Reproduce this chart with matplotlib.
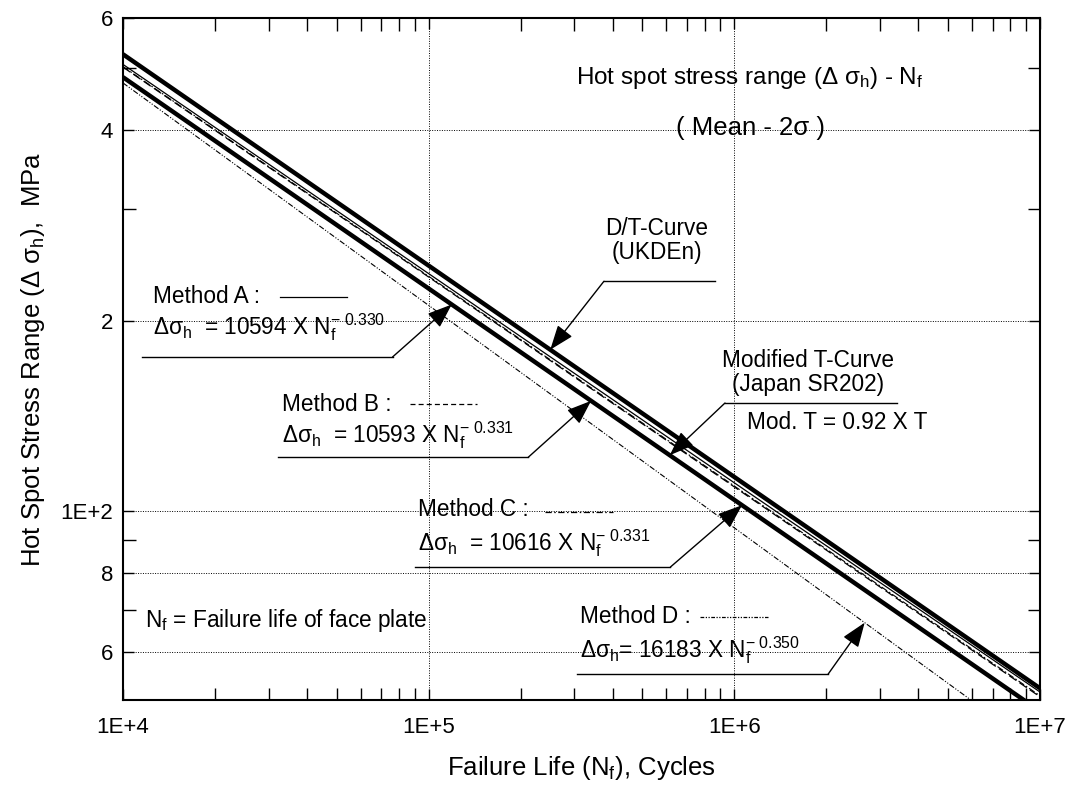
import numpy as np
import matplotlib
matplotlib.use('Agg')
import matplotlib.pyplot as plt
from matplotlib.ticker import FixedLocator, FixedFormatter, NullFormatter

plt.rcParams['font.family'] = ['Liberation Sans', 'DejaVu Sans']
plt.rcParams['mathtext.fontset'] = 'custom'
plt.rcParams['mathtext.rm'] = 'Liberation Sans'
plt.rcParams['mathtext.it'] = 'Liberation Sans'
plt.rcParams['mathtext.bf'] = 'Liberation Sans:bold'

# Curve end points (straight lines on log-log axes)
life_ends = [1e4, 1e7]
t_curve = [526, 52.6]       # D/T-curve (UKDEn)
mod_t_curve = [484, 48.4]   # Modified T-curve (Japan SR202)
method_a = [507, 51.9]
method_b = [502, 51.0]
method_c = [503, 51.2]
method_d = [474, 42.0]

x_ticks = [1e4, 1e5, 1e6, 1e7]
x_tick_labels = ['1E+4', '1E+5', '1E+6', '1E+7']
y_ticks = [60, 80, 100, 200, 400, 600]
y_tick_labels = ['6', '8', '1E+2', '2', '4', '6']
y_minor = [70, 90, 300, 500]

FS = 16.3


def at(series, n):
    # value of a straight log-log line at life n
    return 10 ** np.interp(np.log10(n), np.log10(life_ends), np.log10(series))


fig = plt.figure(figsize=(10.73, 7.87), dpi=100)
ax = fig.add_axes([0.1146, 0.1105, 0.8546, 0.8666])
ax.set_xscale('log')
ax.set_yscale('log')
ax.set_xlim(1e4, 1e7)
ax.set_ylim(50.4, 600)

thick = 3.2
thin = 0.9
ax.plot(life_ends, t_curve, color='k', lw=thick, solid_capstyle='butt')
ax.plot(life_ends, mod_t_curve, color='k', lw=thick, solid_capstyle='butt')
ax.plot(life_ends, method_a, color='k', lw=thin)
ax.plot(life_ends, method_b, color='k', lw=thin, dashes=(7, 3))
ax.plot(life_ends, method_c, color='k', lw=0.8, dashes=(6, 2, 1.5, 2))
ax.plot(life_ends, method_d, color='k', lw=0.8, dashes=(5, 1.5, 1, 1.5, 1, 1.5))

ax.xaxis.set_major_locator(FixedLocator(x_ticks))
ax.xaxis.set_major_formatter(FixedFormatter(x_tick_labels))
ax.xaxis.set_minor_locator(matplotlib.ticker.LogLocator(base=10, subs=np.arange(2, 10)))
ax.xaxis.set_minor_formatter(NullFormatter())
ax.yaxis.set_major_locator(FixedLocator(y_ticks))
ax.yaxis.set_major_formatter(FixedFormatter(y_tick_labels))
ax.yaxis.set_minor_locator(FixedLocator(y_minor))
ax.yaxis.set_minor_formatter(NullFormatter())

ax.tick_params(which='both', direction='in', top=True, right=True, width=1, colors='k')
ax.tick_params(which='major', length=8, labelsize=16)
ax.tick_params(which='minor', length=9)
ax.tick_params(axis='y', pad=7)
ax.tick_params(axis='x', pad=12)
ax.grid(True, which='major', ls=(0, (1, 1.5)), color='k', lw=0.7)
for s in ax.spines.values():
    s.set_linewidth(1.5)

ax.set_xlabel(r'Failure Life (N$_\mathrm{f}$), Cycles', fontsize=18.5, labelpad=12)
ax.set_ylabel(r'Hot Spot Stress Range ($\Delta\ \sigma_\mathrm{h}$),  MPa', fontsize=18.5, labelpad=10)

tr = ax.transAxes
ax.text(0.684, 0.912, r'Hot spot stress range ($\Delta\ \sigma_\mathrm{h}$) - N$_\mathrm{f}$',
        transform=tr, ha='center', va='center', fontsize=17.5)
ax.text(0.684, 0.839, '( Mean - 2σ )', transform=tr, ha='center', va='center', fontsize=18.5)

arrow = dict(arrowstyle='-|>,head_length=0.8,head_width=0.3', color='k', lw=1,
             shrinkA=0, shrinkB=0, mutation_scale=19)


def callout(lines, text_x, text_ys, under, tip, sample=None):
    for txt, ty in zip(lines, text_ys):
        ax.text(text_x, ty, txt, transform=tr, ha='left', va='center', fontsize=FS)
    (ux0, ux1, uy) = under
    ax.plot([ux0, ux1], [uy, uy], color='k', lw=1, transform=tr)
    end_x = ux1 if tip[2] == 'right' else ux0
    ax.annotate('', xy=tip[:2], xycoords='data', xytext=(end_x, uy),
                textcoords='axes fraction', arrowprops=arrow)
    if sample is not None:
        sx0, sx1, sy, style = sample
        ax.plot([sx0, sx1], [sy, sy], color='k', lw=0.9, transform=tr, **style)


n = 1.19e5
callout(['Method A :', r'$\Delta\sigma_\mathrm{h}$  = 10594 X N$_\mathrm{f}^{-\ 0.330}$'],
        0.033, [0.591, 0.547], (0.021, 0.294, 0.503), (n, at(mod_t_curve, n), 'right'),
        (0.171, 0.244, 0.591, {}))
n = 3.4e5
callout(['Method B :', r'$\Delta\sigma_\mathrm{h}$  = 10593 X N$_\mathrm{f}^{-\ 0.331}$'],
        0.173, [0.434, 0.389], (0.169, 0.442, 0.356), (n, at(mod_t_curve, n), 'right'),
        (0.313, 0.386, 0.434, {'dashes': (4, 2.5)}))
n = 1.06e6
callout(['Method C :', r'$\Delta\sigma_\mathrm{h}$  = 10616 X N$_\mathrm{f}^{-\ 0.331}$'],
        0.322, [0.279, 0.230], (0.318, 0.597, 0.195), (n, at(mod_t_curve, n), 'right'),
        (0.460, 0.534, 0.276, {'dashes': (5, 2, 1.2, 2)}))
n = 2.67e6
callout(['Method D :', r'$\Delta\sigma_\mathrm{h}$= 16183 X N$_\mathrm{f}^{-\ 0.350}$'],
        0.498, [0.122, 0.073], (0.495, 0.769, 0.038), (n, at(method_d, n), 'right'),
        (0.629, 0.703, 0.122, {'dashes': (3, 1.2, 1, 1.2, 1, 1.2)}))

# D/T-curve label
n = 2.5e5
ax.text(0.582, 0.692, 'D/T-Curve', transform=tr, ha='center', va='center', fontsize=FS)
ax.text(0.582, 0.656, '(UKDEn)', transform=tr, ha='center', va='center', fontsize=FS)
ax.plot([0.5245, 0.6456], [0.614, 0.614], color='k', lw=1, transform=tr)
ax.annotate('', xy=(n, at(t_curve, n)), xycoords='data', xytext=(0.5245, 0.614),
            textcoords='axes fraction', arrowprops=arrow)

# Modified T-curve label
n = 6.15e5
ax.text(0.747, 0.4985, 'Modified T-Curve', transform=tr, ha='center', va='center', fontsize=FS)
ax.text(0.747, 0.462, '(Japan SR202)', transform=tr, ha='center', va='center', fontsize=FS)
ax.plot([0.6565, 0.844], [0.4355, 0.4355], color='k', lw=1, transform=tr)
ax.annotate('', xy=(n, at(mod_t_curve, n)), xycoords='data', xytext=(0.6565, 0.4355),
            textcoords='axes fraction', arrowprops=arrow)
ax.text(0.680, 0.4076, 'Mod. T = 0.92 X T', transform=tr, ha='left', va='center', fontsize=FS)

ax.text(0.024, 0.117, r'N$_\mathrm{f}$ = Failure life of face plate', transform=tr,
        ha='left', va='center', fontsize=FS)

fig.savefig('out.png', dpi=100)
